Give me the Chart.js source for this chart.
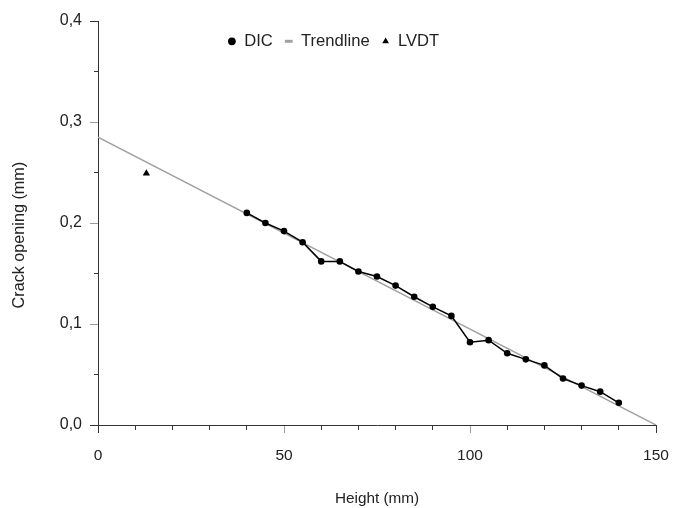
<!DOCTYPE html>
<html>
<head>
<meta charset="utf-8">
<script src="https://cdn.jsdelivr.net/npm/chart.js@4.4.0/dist/chart.umd.min.js"></script>
<style>
html,body{margin:0;padding:0;background:#ffffff;}
#wrap{width:673px;height:508px;}
</style>
</head>
<body>
<div id="wrap"><canvas id="c" width="673" height="508"></canvas></div>
<script>
// ---- data ----
const heights = [40, 45, 50, 55, 60, 65, 70, 75, 80, 85, 90, 95, 100, 105, 110, 115, 120, 125, 130, 135, 140];
const dicOpening = [0.210, 0.200, 0.192, 0.181, 0.162, 0.162, 0.152, 0.147, 0.138, 0.127, 0.117, 0.108, 0.082, 0.084, 0.071, 0.065, 0.059, 0.046, 0.039, 0.033, 0.022];
const trendHeights = [0, 150];
const trendOpening = [0.285, 0.0];
const lvdtHeights = [13];
const lvdtOpening = [0.249];
const xMajorTicks = [0, 50, 100, 150];
const yMajorTicks = [0.0, 0.1, 0.2, 0.3, 0.4];
const seriesNames = ['DIC', 'Trendline', 'LVDT'];

const FONT = "'Liberation Sans', Arial, Helvetica, sans-serif";
const TXT = '#222222';
const AXIS = '#333333';
const GREYTICK = '#9a9a9a';
const TREND = '#a0a0a0';

const pts = (xs, ys) => xs.map((x, i) => ({x: x, y: ys[i]}));
const isXMajor = v => xMajorTicks.some(t => Math.abs(t - v) < 1e-6);
const isYMajor = v => yMajorTicks.some(t => Math.abs(t - v) < 1e-6);
const xEdge = v => Math.abs(v - xMajorTicks[0]) < 1e-6 || Math.abs(v - xMajorTicks[xMajorTicks.length - 1]) < 1e-6;
const yEdge = v => Math.abs(v - yMajorTicks[0]) < 1e-6 || Math.abs(v - yMajorTicks[yMajorTicks.length - 1]) < 1e-6;

// legend drawn as one horizontal row inside the plot area, centred near the canvas middle
const legendInPlot = {
  id: 'legendInPlot',
  beforeUpdate(chart) {
    if (chart.legend) chart.legend.isHorizontal = () => true;
  },
  afterLayout(chart) {
    const lg = chart.legend;
    if (lg) { lg.left = -3; lg.right = chart.width - 3; lg.width = chart.width; }
  }
};

new Chart(document.getElementById('c'), {
  type: 'scatter',
  data: {
    datasets: [
      {
        label: seriesNames[0],
        data: pts(heights, dicOpening),
        showLine: true,
        borderColor: '#000000',
        borderWidth: 1.5,
        pointRadius: 3.3,
        pointBackgroundColor: '#000000',
        pointBorderColor: '#000000',
        pointBorderWidth: 0,
        pointStyle: 'circle'
      },
      {
        label: seriesNames[1],
        data: pts(trendHeights, trendOpening),
        showLine: true,
        borderColor: TREND,
        borderWidth: 1.5,
        pointRadius: 0,
        pointStyle: 'line'
      },
      {
        label: seriesNames[2],
        data: pts(lvdtHeights, lvdtOpening),
        showLine: false,
        pointStyle: 'triangle',
        pointRadius: 4.2,
        pointBackgroundColor: '#000000',
        pointBorderColor: '#000000',
        pointBorderWidth: 0
      }
    ]
  },
  options: {
    responsive: false,
    animation: false,
    devicePixelRatio: 1,
    layout: { padding: { top: 21, right: 17, left: 0, bottom: 0 } },
    plugins: {
      tooltip: { enabled: false },
      legend: {
        display: true,
        position: 'chartArea',
        align: 'center',
        labels: {
          usePointStyle: true,
          boxWidth: 8,
          boxHeight: 5.5,
          padding: 12,
          color: TXT,
          font: { family: FONT, size: 16.6 },
          generateLabels: (chart) => chart.data.datasets.map((ds, i) => ({
            text: ds.label,
            pointStyle: i === 0 ? 'circle' : (i === 1 ? 'line' : 'triangle'),
            fillStyle: i === 1 ? TREND : '#000000',
            strokeStyle: i === 1 ? TREND : '#000000',
            lineWidth: i === 1 ? 3 : 0,
            fontColor: TXT,
            hidden: false,
            datasetIndex: i
          }))
        }
      }
    },
    scales: {
      x: {
        type: 'linear',
        min: 0,
        max: 150,
        afterFit: (s) => { s.height = 83; s.paddingLeft = 0; s.paddingRight = 0; },
        border: { display: true, color: AXIS, width: 1 },
        grid: {
          drawOnChartArea: false,
          drawTicks: true,
          tickLength: 8,
          color: (ctx) => (ctx.tick && isXMajor(ctx.tick.value) && !xEdge(ctx.tick.value)) ? GREYTICK : AXIS,
          tickBorderDash: (ctx) => (ctx.tick && isXMajor(ctx.tick.value)) ? [] : [4, 100]
        },
        ticks: {
          stepSize: 10,
          autoSkip: false,
          maxRotation: 0,
          padding: 13,
          color: TXT,
          font: { family: FONT, size: 15.5 },
          callback: (v) => isXMajor(v) ? String(v) : ''
        },
        title: {
          display: true,
          text: 'Height (mm)',
          color: TXT,
          font: { family: FONT, size: 15.3 },
          padding: { top: 0, bottom: 0 }
        }
      },
      y: {
        type: 'linear',
        min: 0,
        max: 0.4,
        afterFit: (s) => { s.width = 98; },
        border: { display: true, color: AXIS, width: 1 },
        grid: {
          drawOnChartArea: false,
          drawTicks: true,
          tickLength: 8,
          color: (ctx) => (ctx.tick && isYMajor(ctx.tick.value) && !yEdge(ctx.tick.value)) ? GREYTICK : AXIS,
          tickBorderDash: (ctx) => (ctx.tick && isYMajor(ctx.tick.value)) ? [] : [0, 4, 4, 100]
        },
        ticks: {
          stepSize: 0.05,
          autoSkip: false,
          padding: 8,
          color: TXT,
          font: { family: FONT, size: 16 },
          callback: (v) => isYMajor(v) ? v.toFixed(1).replace('.', ',') : ''
        },
        title: {
          display: true,
          text: 'Crack opening (mm)\u2002\u2002\u2002',
          color: TXT,
          font: { family: FONT, size: 16.2 },
          padding: { top: 10, bottom: 0 }
        }
      }
    }
  },
  plugins: [legendInPlot]
});
</script>
</body>
</html>
